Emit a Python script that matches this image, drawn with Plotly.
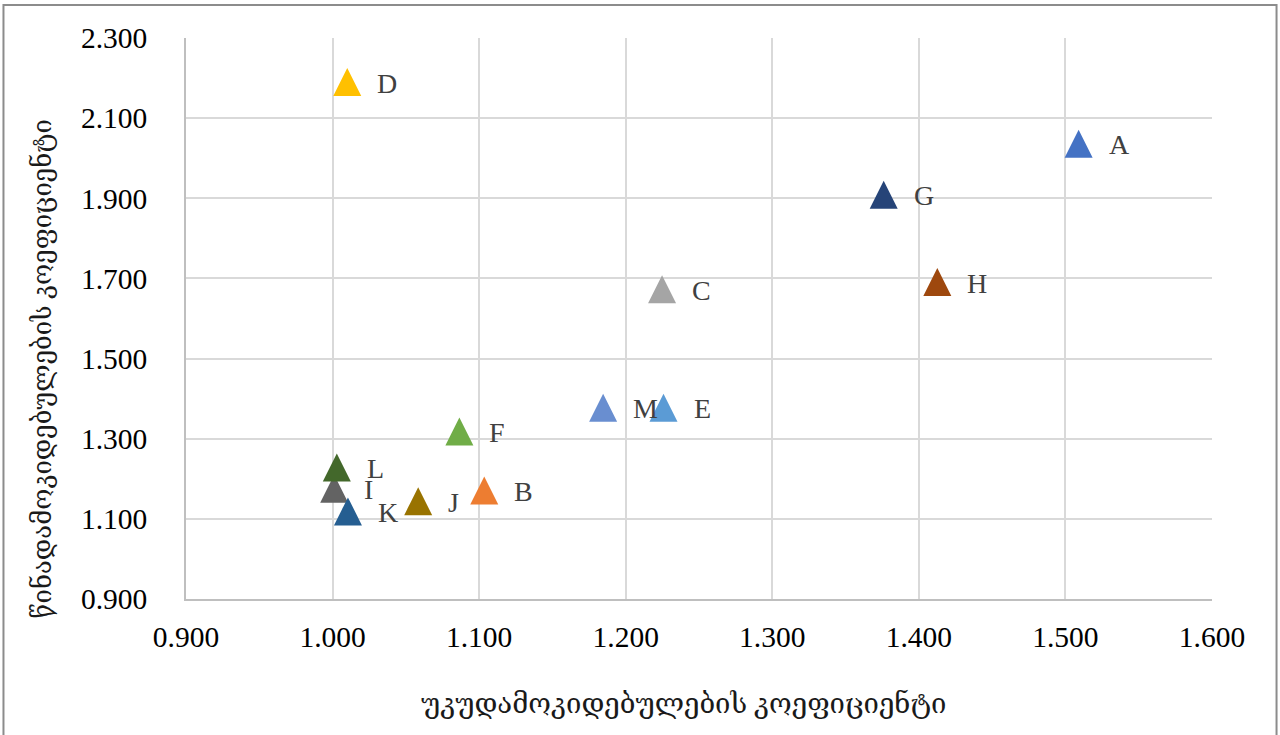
import plotly.graph_objects as go

labels = ["A", "B", "C", "D", "E", "F", "G", "H", "I", "J", "K", "L", "M"]
x_vals = [1.509, 1.1035, 1.2248, 1.010, 1.2258, 1.0865, 1.376, 1.4126, 1.0011, 1.0584, 1.0105, 1.0029, 1.1846]
y_vals = [2.036, 1.171, 1.673, 2.190, 1.3775, 1.318, 1.909, 1.691, 1.175, 1.144, 1.1186, 1.228, 1.3775]
colors = ["#4472C4", "#ED7D31", "#A5A5A5", "#FFC000", "#5B9BD5", "#70AD47",
          "#264478", "#9E480E", "#636363", "#997300", "#255E91", "#43682B", "#698ED0"]

x_title = "უკუდამოკიდებულების კოეფიციენტი"
y_title = "წინადამოკიდებულების კოეფიციენტი"

FONT = "Liberation Serif, DejaVu Serif, DejaVu Sans, serif"
MS = 28

fig = go.Figure()
for lab, xv, yv, c in zip(labels, x_vals, y_vals, colors):
    fig.add_trace(go.Scatter(
        x=[xv], y=[yv], mode="markers", name=lab,
        marker=dict(symbol="arrow-down", angle=180, standoff=MS / 2, size=MS,
                    color=c, line=dict(width=0)),
        hoverinfo="x+y+name",
    ))

annotations = []
for lab, xv, yv in zip(labels, x_vals, y_vals):
    annotations.append(dict(
        x=xv, y=yv, xref="x", yref="y", text=lab, showarrow=False,
        xanchor="left", yanchor="middle", xshift=28, yshift=-1,
        font=dict(family=FONT, size=28, color="#404040"),
    ))

annotations.append(dict(
    x=0.485, y=-0.186, xref="paper", yref="paper", text=x_title, showarrow=False,
    xanchor="center", yanchor="middle",
    font=dict(family=FONT, size=27.5, color="#1a1a1a"),
))
annotations.append(dict(
    x=-0.139, y=0.41, xref="paper", yref="paper", text=y_title, showarrow=False,
    textangle=-90, xanchor="center", yanchor="middle",
    font=dict(family=FONT, size=25.7, color="#1a1a1a"),
))

fig.update_layout(
    width=1280, height=735,
    margin=dict(l=186, r=68, t=37.5, b=135.5),
    paper_bgcolor="white", plot_bgcolor="white",
    showlegend=False,
    annotations=annotations,
    shapes=[dict(type="rect", xref="paper", yref="paper",
                 x0=-0.1779, x1=1.0629, y0=-0.27, y1=1.0587,
                 line=dict(color="#8c8c8c", width=2), layer="above")],
)
fig.update_xaxes(
    range=[0.9, 1.6], dtick=0.1, tick0=0.9, tickformat=".3f",
    showgrid=True, gridcolor="#D9D9D9", gridwidth=1.5,
    showline=True, linecolor="#BFBFBF", linewidth=1.5, mirror=False,
    zeroline=False, ticks="", ticklabelstandoff=11,
    tickfont=dict(family=FONT, size=29.5, color="#000000"),
)
fig.update_yaxes(
    range=[0.9, 2.3], dtick=0.2, tick0=0.9, tickformat=".3f",
    showgrid=True, gridcolor="#D9D9D9", gridwidth=1.5,
    showline=True, linecolor="#BFBFBF", linewidth=1.5,
    zeroline=False, ticks="", ticklabelstandoff=31,
    tickfont=dict(family=FONT, size=29.5, color="#000000"),
)

fig.write_html("out.html", config={"displayModeBar": False},
               post_script="document.body.style.margin='0';")
